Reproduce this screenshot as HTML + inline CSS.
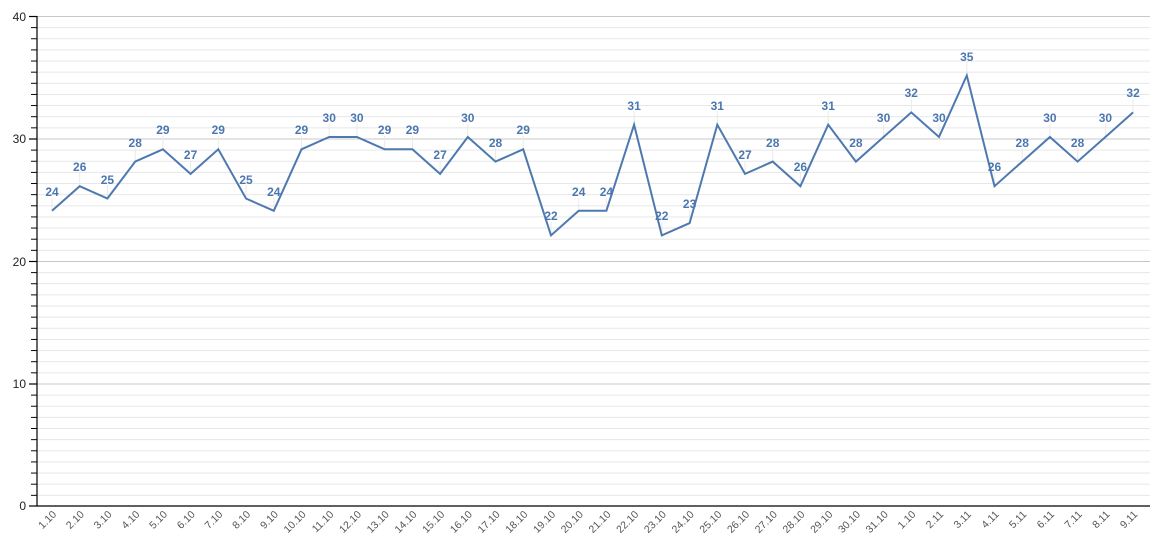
<!DOCTYPE html>
<html><head><meta charset="utf-8"><style>
html,body{margin:0;padding:0;background:#fff;}
svg{display:block;font-family:"Liberation Sans",sans-serif;}
.dl{font-size:12px;font-weight:bold;fill:#4b77b0;text-anchor:middle;}
.xl{font-size:10.5px;fill:#555;text-anchor:end;}
</style></head><body>
<svg width="1160" height="550" viewBox="0 0 1160 550">
<defs>
<pattern id="mg" patternUnits="userSpaceOnUse" x="0" y="16" width="1160" height="11.136">
<line x1="0" y1="0.5" x2="1160" y2="0.5" stroke="#e6e6e6" stroke-width="1"/>
</pattern>
<pattern id="mt" patternUnits="userSpaceOnUse" x="0" y="16" width="1160" height="11.136">
<line x1="0" y1="0.5" x2="1160" y2="0.5" stroke="#000" stroke-width="1"/>
</pattern>
</defs>
<rect x="37" y="16" width="1113" height="490" fill="url(#mg)"/>
<rect x="31" y="16" width="6" height="490" fill="url(#mt)"/>
<g stroke="#c8c8c8" stroke-width="1">
<line x1="37" y1="16.5" x2="1150" y2="16.5"/>
<line x1="37" y1="139" x2="1150" y2="139"/>
<line x1="37" y1="261.5" x2="1150" y2="261.5"/>
<line x1="37" y1="384" x2="1150" y2="384"/>
</g>
<g stroke="#000" stroke-width="1.2">
<line x1="37" y1="16" x2="37" y2="506"/>
<line x1="37" y1="506" x2="1150" y2="506"/>
<line x1="29" y1="16.5" x2="37" y2="16.5"/>
<line x1="29" y1="139" x2="37" y2="139"/>
<line x1="29" y1="261.5" x2="37" y2="261.5"/>
<line x1="29" y1="384" x2="37" y2="384"/>
<line x1="29" y1="506" x2="37" y2="506"/>
</g>
<g font-size="12" fill="#222" text-anchor="end">
<text x="26" y="21">40</text><text x="26" y="143">30</text><text x="26" y="266">20</text><text x="26" y="388">10</text><text x="26" y="510">0</text>
</g>
<g stroke="#eaeaea" stroke-width="1">
<line x1="52" y1="198" x2="52" y2="210.8"/><line x1="79.7" y1="173" x2="79.7" y2="186.2"/><line x1="107.4" y1="185" x2="107.4" y2="198.5"/><line x1="135.2" y1="148" x2="135.2" y2="161.6"/><line x1="162.9" y1="136" x2="162.9" y2="149.3"/><line x1="190.6" y1="161" x2="190.6" y2="173.9"/><line x1="218.3" y1="136" x2="218.3" y2="149.3"/><line x1="246" y1="185" x2="246" y2="198.5"/><line x1="273.8" y1="198" x2="273.8" y2="210.8"/><line x1="301.5" y1="136" x2="301.5" y2="149.3"/><line x1="329.2" y1="124" x2="329.2" y2="137"/><line x1="356.9" y1="124" x2="356.9" y2="137"/><line x1="384.6" y1="136" x2="384.6" y2="149.3"/><line x1="412.4" y1="136" x2="412.4" y2="149.3"/><line x1="440.1" y1="161" x2="440.1" y2="173.9"/><line x1="467.8" y1="124" x2="467.8" y2="137"/><line x1="495.5" y1="148" x2="495.5" y2="161.6"/><line x1="523.2" y1="136" x2="523.2" y2="149.3"/><line x1="551" y1="222" x2="551" y2="235.4"/><line x1="578.7" y1="198" x2="578.7" y2="210.8"/><line x1="606.4" y1="198" x2="606.4" y2="210.8"/><line x1="634.1" y1="111" x2="634.1" y2="124.7"/><line x1="661.8" y1="222" x2="661.8" y2="235.4"/><line x1="689.6" y1="210" x2="689.6" y2="223.1"/><line x1="717.3" y1="111" x2="717.3" y2="124.7"/><line x1="745" y1="161" x2="745" y2="173.9"/><line x1="772.7" y1="148" x2="772.7" y2="161.6"/><line x1="800.4" y1="173" x2="800.4" y2="186.2"/><line x1="828.2" y1="111" x2="828.2" y2="124.7"/><line x1="855.9" y1="148" x2="855.9" y2="161.6"/><line x1="883.6" y1="124" x2="883.6" y2="137"/><line x1="911.3" y1="99" x2="911.3" y2="112.4"/><line x1="939" y1="124" x2="939" y2="137"/><line x1="966.8" y1="62" x2="966.8" y2="75.5"/><line x1="994.5" y1="173" x2="994.5" y2="186.2"/><line x1="1022.2" y1="148" x2="1022.2" y2="161.6"/><line x1="1049.9" y1="124" x2="1049.9" y2="137"/><line x1="1077.6" y1="148" x2="1077.6" y2="161.6"/><line x1="1105.4" y1="124" x2="1105.4" y2="137"/><line x1="1133.1" y1="99" x2="1133.1" y2="112.4"/>
</g>
<polyline fill="none" stroke="#4e79b0" stroke-width="2" stroke-linejoin="miter" points="52,210.8 79.7,186.2 107.4,198.5 135.2,161.6 162.9,149.3 190.6,173.9 218.3,149.3 246,198.5 273.8,210.8 301.5,149.3 329.2,137 356.9,137 384.6,149.3 412.4,149.3 440.1,173.9 467.8,137 495.5,161.6 523.2,149.3 551,235.4 578.7,210.8 606.4,210.8 634.1,124.7 661.8,235.4 689.6,223.1 717.3,124.7 745,173.9 772.7,161.6 800.4,186.2 828.2,124.7 855.9,161.6 883.6,137 911.3,112.4 939,137 966.8,75.5 994.5,186.2 1022.2,161.6 1049.9,137 1077.6,161.6 1105.4,137 1133.1,112.4"/>
<g class="dl">
<text x="52" y="196">24</text><text x="79.7" y="171">26</text><text x="107.4" y="184">25</text><text x="135.2" y="147">28</text><text x="162.9" y="134">29</text><text x="190.6" y="159">27</text><text x="218.3" y="134">29</text><text x="246" y="184">25</text><text x="273.8" y="196">24</text><text x="301.5" y="134">29</text><text x="329.2" y="122">30</text><text x="356.9" y="122">30</text><text x="384.6" y="134">29</text><text x="412.4" y="134">29</text><text x="440.1" y="159">27</text><text x="467.8" y="122">30</text><text x="495.5" y="147">28</text><text x="523.2" y="134">29</text><text x="551" y="220">22</text><text x="578.7" y="196">24</text><text x="606.4" y="196">24</text><text x="634.1" y="110">31</text><text x="661.8" y="220">22</text><text x="689.6" y="208">23</text><text x="717.3" y="110">31</text><text x="745" y="159">27</text><text x="772.7" y="147">28</text><text x="800.4" y="171">26</text><text x="828.2" y="110">31</text><text x="855.9" y="147">28</text><text x="883.6" y="122">30</text><text x="911.3" y="97">32</text><text x="939" y="122">30</text><text x="966.8" y="61">35</text><text x="994.5" y="171">26</text><text x="1022.2" y="147">28</text><text x="1049.9" y="122">30</text><text x="1077.6" y="147">28</text><text x="1105.4" y="122">30</text><text x="1133.1" y="97">32</text>
</g>
<g class="xl">
<text transform="translate(57,515) rotate(-45)">1.10</text><text transform="translate(84.7,515) rotate(-45)">2.10</text><text transform="translate(112.4,515) rotate(-45)">3.10</text><text transform="translate(140.2,515) rotate(-45)">4.10</text><text transform="translate(167.9,515) rotate(-45)">5.10</text><text transform="translate(195.6,515) rotate(-45)">6.10</text><text transform="translate(223.3,515) rotate(-45)">7.10</text><text transform="translate(251,515) rotate(-45)">8.10</text><text transform="translate(278.8,515) rotate(-45)">9.10</text><text transform="translate(306.5,515) rotate(-45)">10.10</text><text transform="translate(334.2,515) rotate(-45)">11.10</text><text transform="translate(361.9,515) rotate(-45)">12.10</text><text transform="translate(389.6,515) rotate(-45)">13.10</text><text transform="translate(417.4,515) rotate(-45)">14.10</text><text transform="translate(445.1,515) rotate(-45)">15.10</text><text transform="translate(472.8,515) rotate(-45)">16.10</text><text transform="translate(500.5,515) rotate(-45)">17.10</text><text transform="translate(528.2,515) rotate(-45)">18.10</text><text transform="translate(556,515) rotate(-45)">19.10</text><text transform="translate(583.7,515) rotate(-45)">20.10</text><text transform="translate(611.4,515) rotate(-45)">21.10</text><text transform="translate(639.1,515) rotate(-45)">22.10</text><text transform="translate(666.8,515) rotate(-45)">23.10</text><text transform="translate(694.6,515) rotate(-45)">24.10</text><text transform="translate(722.3,515) rotate(-45)">25.10</text><text transform="translate(750,515) rotate(-45)">26.10</text><text transform="translate(777.7,515) rotate(-45)">27.10</text><text transform="translate(805.4,515) rotate(-45)">28.10</text><text transform="translate(833.2,515) rotate(-45)">29.10</text><text transform="translate(860.9,515) rotate(-45)">30.10</text><text transform="translate(888.6,515) rotate(-45)">31.10</text><text transform="translate(916.3,515) rotate(-45)">1.10</text><text transform="translate(944,515) rotate(-45)">2.11</text><text transform="translate(971.8,515) rotate(-45)">3.11</text><text transform="translate(999.5,515) rotate(-45)">4.11</text><text transform="translate(1027.2,515) rotate(-45)">5.11</text><text transform="translate(1054.9,515) rotate(-45)">6.11</text><text transform="translate(1082.6,515) rotate(-45)">7.11</text><text transform="translate(1110.4,515) rotate(-45)">8.11</text><text transform="translate(1138.1,515) rotate(-45)">9.11</text>
</g>
</svg>
</body></html>
